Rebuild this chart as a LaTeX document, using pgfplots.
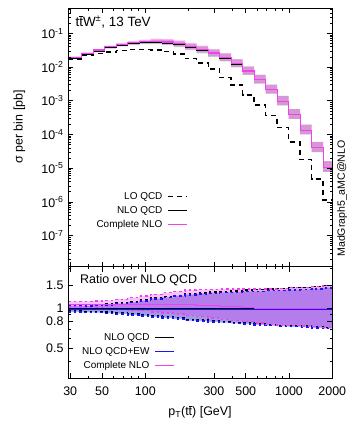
\documentclass[border=0pt]{standalone}
\usepackage{fontspec}
\setmainfont{Liberation Sans}
\usepackage{pgfplots}
\pgfplotsset{compat=1.18}
\usepackage{pgfplotstable}
\usepgfplotslibrary{fillbetween}
\definecolor{mag}{RGB}{240,64,240}
\definecolor{myblue}{RGB}{20,20,255}

\pgfplotstableread{
x lo n nup ndn c cup cdn
29 0.01693 0.01814 0.01923 0.01741 0.01941 0.02057 0.01863
36.07 0.02194 0.02384 0.02527 0.02277 0.02551 0.02704 0.02436
43.36 0.02516 0.02986 0.03195 0.02837 0.03195 0.03419 0.03035
52.13 0.02787 0.03741 0.04040 0.03517 0.04003 0.04323 0.03763
62.68 0.03088 0.04407 0.04848 0.04099 0.04716 0.05188 0.04386
75.36 0.03261 0.04918 0.05557 0.04500 0.05262 0.05946 0.04815
90.60 0.03306 0.05264 0.06106 0.04738 0.05632 0.06533 0.05069
108.93 0.03195 0.05409 0.06491 0.04760 0.05788 0.06946 0.05093
130.96 0.02884 0.05156 0.06342 0.04460 0.05517 0.06786 0.04772
157.45 0.02430 0.04561 0.05747 0.03877 0.04880 0.06149 0.04148
189.30 0.01788 0.03793 0.04893 0.03148 0.04058 0.05235 0.03368
227.59 0.01315 0.03119 0.04086 0.02558 0.03306 0.04331 0.02711
273.62 0.008723 0.02479 0.03297 0.02008 0.02603 0.03462 0.02108
328.96 0.004880 0.01839 0.02483 0.01471 0.01913 0.02583 0.01530
395.50 0.002923 0.01233 0.01677 0.009741 0.01270 0.01727 0.01003
475.50 0.001476 0.007457 0.01029 0.005816 0.007606 0.01050 0.005933
571.68 0.0007455 0.004215 0.005859 0.003246 0.004257 0.005917 0.003278
687.31 0.0003637 0.002149 0.003030 0.001633 0.002149 0.003030 0.001633
826.32 0.0001602 0.0009797 0.001391 0.0007348 0.0009797 0.001391 0.0007348
993.46 5.950e-5 0.0003896 0.0005610 0.0002903 0.0003896 0.0005610 0.0002903
1194.40 1.800e-5 0.0001351 0.0001959 0.00009997 0.0001351 0.0001959 0.00009997
1436.00 4.748e-6 4.087e-5 6.008e-5 2.984e-5 4.087e-5 6.008e-5 2.984e-5
1726.47 1.130e-6 1.078e-5 1.617e-5 7.762e-6 1.078e-5 1.617e-5 7.762e-6
2075.70 1.130e-6 1.078e-5 1.617e-5 7.762e-6 1.078e-5 1.617e-5 7.762e-6
}\toptab

\pgfplotstableread{
x q qu qd e eu ed c cu cd
29 1 1.06 0.96 0.985 1.044 0.941 1.07 1.134 1.027
36.07 1 1.06 0.955 0.985 1.044 0.936 1.07 1.134 1.022
43.36 1 1.07 0.95 0.985 1.054 0.931 1.07 1.145 1.017
52.13 1 1.08 0.94 0.985 1.064 0.921 1.07 1.156 1.006
62.68 1 1.10 0.93 0.985 1.084 0.911 1.07 1.177 0.995
75.36 1 1.13 0.915 0.985 1.113 0.897 1.07 1.209 0.979
90.60 1 1.16 0.90 0.985 1.143 0.882 1.07 1.241 0.963
108.93 1 1.20 0.88 0.985 1.182 0.862 1.07 1.284 0.942
130.96 1 1.23 0.865 0.985 1.212 0.848 1.07 1.316 0.926
157.45 1 1.26 0.85 0.985 1.241 0.833 1.07 1.348 0.910
189.30 1 1.29 0.83 0.985 1.271 0.813 1.07 1.380 0.888
227.59 1 1.31 0.82 0.985 1.287 0.804 1.06 1.389 0.869
273.62 1 1.33 0.81 0.984 1.303 0.794 1.05 1.397 0.851
328.96 1 1.35 0.80 0.984 1.320 0.784 1.04 1.404 0.832
395.50 1 1.36 0.79 0.983 1.326 0.774 1.03 1.401 0.814
475.50 1 1.38 0.78 0.983 1.342 0.764 1.02 1.408 0.796
571.68 1 1.39 0.77 0.982 1.348 0.755 1.01 1.404 0.778
687.31 1 1.41 0.76 0.982 1.364 0.745 1.00 1.41 0.76
826.32 1 1.42 0.75 0.981 1.370 0.735 1.00 1.42 0.75
993.46 1 1.44 0.745 0.980 1.386 0.730 1.00 1.44 0.745
1194.40 1 1.45 0.74 0.980 1.392 0.725 1.00 1.45 0.74
1436.00 1 1.47 0.73 0.979 1.408 0.715 1.00 1.47 0.73
1726.47 1 1.50 0.72 0.978 1.433 0.706 1.00 1.50 0.72
2075.70 1 1.50 0.72 0.978 1.433 0.706 1.00 1.50 0.72
}\rattab

\pgfplotsset{
  every tick/.append style={black, line width=0.6bp},
  legend image code/.code={\draw[#1, line width=1.4bp] (0bp,0bp) -- (19bp,0bp);},
}

\begin{document}
\begin{tikzpicture}
\begin{axis}[
 scale only axis, width=263.8bp, height=258.4bp,
 at={(0,111.3bp)}, anchor=south west, clip mode=individual,
 xmode=log, log basis x=10, xmin=29.2, xmax=2000,
 xtick={30,50,100,300,500,1000,2000},
 minor xtick={40,60,70,80,90,200,400,600,700,800,900},
 tick align=inside, major tick length=5bp, minor tick length=2.5bp,
 axis line style={line width=0.8bp},
 tick label style={font=\fontsize{12.5}{15}\selectfont},
 yticklabel style={xshift=-1.5bp},
 label style={font=\fontsize{12.5}{15}\selectfont},
 legend plot pos=right, legend cell align=right,
 legend style={draw=none, fill=none, font=\fontsize{10}{12}\selectfont, row sep=1.3bp, column sep=3bp, inner sep=0pt,
   at={(axis description cs:0.453,0.296)}, anchor=north east},
 axis on top,
 ymode=log, log basis y=10, ymin=1.2e-8, ymax=0.552,
 ytick={1e-7,1e-6,1e-5,1e-4,1e-3,1e-2,1e-1},
 yticklabels={10\textsuperscript{-7},10\textsuperscript{-6},10\textsuperscript{-5},10\textsuperscript{-4},10\textsuperscript{-3},10\textsuperscript{-2},10\textsuperscript{-1}},
 minor ytick={2e-8,3e-8,4e-8,5e-8,6e-8,7e-8,8e-8,9e-8,2e-7,3e-7,4e-7,5e-7,6e-7,7e-7,8e-7,9e-7,2e-6,3e-6,4e-6,5e-6,6e-6,7e-6,8e-6,9e-6,2e-5,3e-5,4e-5,5e-5,6e-5,7e-5,8e-5,9e-5,2e-4,3e-4,4e-4,5e-4,6e-4,7e-4,8e-4,9e-4,2e-3,3e-3,4e-3,5e-3,6e-3,7e-3,8e-3,9e-3,2e-2,3e-2,4e-2,5e-2,6e-2,7e-2,8e-2,9e-2,2e-1,3e-1,4e-1,5e-1},
 xticklabels={},
 ylabel={σ per bin [pb]},
 ylabel style={at={(axis description cs:-0.186,0.541)}, anchor=center},
]
\addplot[name path=nu, draw=none, const plot, forget plot] table[x=x,y=nup]{\toptab};
\addplot[name path=nd, draw=none, const plot, forget plot] table[x=x,y=ndn]{\toptab};
\addplot[name path=cu, draw=none, const plot, forget plot] table[x=x,y=cup]{\toptab};
\addplot[name path=cd, draw=none, const plot, forget plot] table[x=x,y=cdn]{\toptab};
\addplot[fill=black, fill opacity=0.22, draw=none, forget plot] fill between[of=nu and nd];
\addplot[fill=mag, fill opacity=0.35, draw=none, forget plot] fill between[of=cu and cd];
\addplot[const plot, black, line width=1.3bp, dash pattern=on 5bp off 4bp] table[x=x,y=lo]{\toptab};
\addlegendentry{LO QCD}
\addplot[const plot, black, line width=1.1bp] table[x=x,y=n]{\toptab};
\addlegendentry{NLO QCD}
\addplot[const plot, mag, line width=1.1bp] table[x=x,y=c]{\toptab};
\addlegendentry{Complete NLO}
\node[anchor=base west, font=\fontsize{13.5}{16}\selectfont] at (axis description cs:0.0133,0.9288) {t$\overline{\hbox{t}}$W\textsuperscript{±}, 13 TeV};
\node[rotate=90, anchor=base, font=\fontsize{10.6}{12}\selectfont] at (axis description cs:1.048,0.264) {MadGraph5\_aMC@NLO};
\end{axis}

\begin{axis}[
 scale only axis, width=263.8bp, height=111.3bp,
 at={(0,0)}, anchor=south west, clip mode=individual,
 xmode=log, log basis x=10, xmin=29.2, xmax=2000,
 xtick={30,50,100,300,500,1000,2000},
 minor xtick={40,60,70,80,90,200,400,600,700,800,900},
 tick align=inside, major tick length=5bp, minor tick length=2.5bp,
 axis line style={line width=0.8bp},
 tick label style={font=\fontsize{12.5}{15}\selectfont},
 xticklabel style={yshift=-5bp},
 yticklabel style={xshift=-1.5bp},
 label style={font=\fontsize{12.5}{15}\selectfont},
 legend plot pos=right, legend cell align=right,
 legend style={draw=none, fill=none, font=\fontsize{10}{12}\selectfont, row sep=1.3bp, column sep=3bp, inner sep=0pt,
   at={(axis description cs:0.404,0.42)}, anchor=north east},
 axis on top,
 ymode=log, log basis y=10, ymin=0.3, ymax=2.07,
 ytick={0.5,0.8,1,1.5}, yticklabels={0.5,0.8,1,1.5},
 minor ytick={0.4,0.6,0.7,0.9,2},
 xticklabels={30,50,100,300,500,1000,2000},
 xlabel={p\textsubscript{T}(t$\overline{\hbox{t}}$) [GeV]},
 xlabel style={at={(axis description cs:0.4985,-0.3055)}, anchor=center},
]
\addlegendimage{black, line width=1.1bp}
\addlegendentry{NLO QCD}
\addlegendimage{color={rgb,255:red,20;green,20;blue,255}, line width=1.1bp}
\addlegendentry{NLO QCD+EW}
\addlegendimage{color={rgb,255:red,240;green,64;blue,240}, line width=1.1bp}
\addlegendentry{Complete NLO}
\addplot[name path=qu, draw=none, const plot, forget plot] table[x=x,y=qu]{\rattab};
\addplot[name path=qd, draw=none, const plot, forget plot] table[x=x,y=qd]{\rattab};
\addplot[name path=eu, draw=none, const plot, forget plot] table[x=x,y=eu]{\rattab};
\addplot[name path=ed, draw=none, const plot, forget plot] table[x=x,y=ed]{\rattab};
\addplot[name path=ru, draw=none, const plot, forget plot] table[x=x,y=cu]{\rattab};
\addplot[name path=rd, draw=none, const plot, forget plot] table[x=x,y=cd]{\rattab};
\addplot[fill=black, fill opacity=0.12, draw=none, forget plot] fill between[of=qu and qd];
\addplot[fill=myblue, fill opacity=0.34, draw=none, forget plot] fill between[of=eu and ed];
\addplot[fill=mag, fill opacity=0.32, draw=none, forget plot] fill between[of=ru and rd];
\addplot[const plot, black, line width=1.4bp, dash pattern=on 2.5bp off 3bp, forget plot] table[x=x,y=qu]{\rattab};
\addplot[const plot, black, line width=1.4bp, dash pattern=on 2.5bp off 3bp, forget plot] table[x=x,y=qd]{\rattab};
\addplot[const plot, myblue, line width=1.4bp, dash pattern=on 2.5bp off 3bp, forget plot] table[x=x,y=eu]{\rattab};
\addplot[const plot, myblue, line width=1.4bp, dash pattern=on 2.5bp off 3bp, forget plot] table[x=x,y=ed]{\rattab};
\addplot[const plot, mag, line width=1.4bp, dash pattern=on 2.5bp off 3bp, forget plot] table[x=x,y=cu]{\rattab};
\addplot[const plot, mag, line width=1.4bp, dash pattern=on 2.5bp off 3bp, forget plot] table[x=x,y=cd]{\rattab};
\addplot[const plot, black, line width=1.1bp, forget plot] table[x=x,y=q]{\rattab};
\addplot[const plot, myblue, line width=1.1bp, forget plot] table[x=x,y=e]{\rattab};
\addplot[const plot, mag, line width=1.1bp, forget plot] table[x=x,y=c]{\rattab};
\node[anchor=base west, font=\fontsize{12.5}{15}\selectfont] at (axis description cs:0.031,0.8446) {Ratio over NLO QCD};
\end{axis}
\path (-68.5bp,-52bp) rectangle (288.5bp,378bp);
\end{tikzpicture}
\end{document}
